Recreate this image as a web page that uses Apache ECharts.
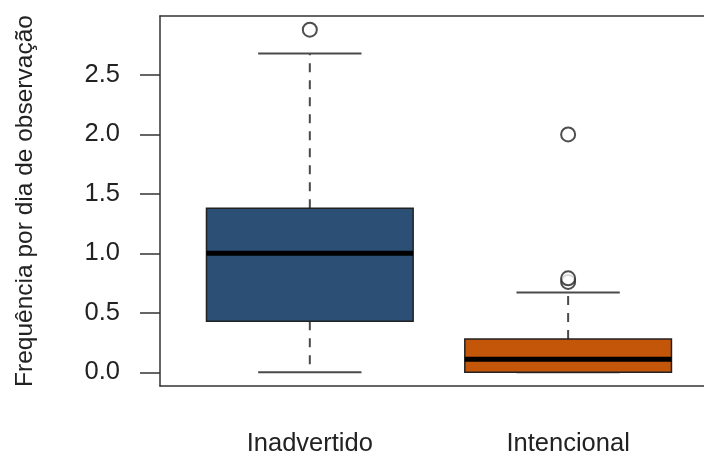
<!DOCTYPE html>
<html>
<head>
<meta charset="utf-8">
<script src="https://cdn.jsdelivr.net/npm/echarts@6/dist/echarts.min.js"></script>
<style>
  html, body { margin: 0; padding: 0; background: #ffffff; }
  #chart { width: 704px; height: 457px; }
</style>
</head>
<body>
<div id="chart"></div>
<script>
// Five-number summaries per group
const categories = ['Inadvertido', 'Intencional'];
const lowerWhisker = [0.0, 0.0];
const q1 = [0.43, 0.0];
const median = [1.0, 0.11];
const q3 = [1.38, 0.28];
const upperWhisker = [2.68, 0.67];

// Points beyond the whiskers (group index, value)
const outlierGroup = [0, 1, 1, 1];
const outlierValue = [2.88, 0.76, 0.79, 2.0];

const yTicks = [0, 0.5, 1, 1.5, 2, 2.5];
const boxColors = ['#2b4f75', '#c4560a'];

const boxData = categories.map((c, i) => [i + 1, lowerWhisker[i], q1[i], median[i], q3[i], upperWhisker[i]]);
const outlierData = outlierGroup.map((g, i) => [g + 1, outlierValue[i]]);

const FONT = 'Liberation Sans, Arial, Helvetica, sans-serif';
const BOX_HALF = 0.4;
const CAP_HALF = 0.2;
// Visible x window: the frame's right side runs past the page edge
const X_MIN = 0.42;
const X_MAX = 2.526;
const FRAME = { color: '#333333', width: 1.5 };

function renderBox(params, api) {
  const x = api.value(0);
  const lo = api.value(1), b1 = api.value(2), md = api.value(3), b3 = api.value(4), hi = api.value(5);
  const pL = api.coord([x - BOX_HALF, b3]);
  const pR = api.coord([x + BOX_HALF, b1]);
  const cL = api.coord([x - CAP_HALF, lo])[0];
  const cR = api.coord([x + CAP_HALF, lo])[0];
  const cx = api.coord([x, 0])[0];
  const yLo = api.coord([x, lo])[1];
  const yHi = api.coord([x, hi])[1];
  const yQ1 = pR[1], yQ3 = pL[1];
  const yMd = api.coord([x, md])[1];
  const whisk = { stroke: '#4a4a4a', lineWidth: 2, lineDash: [9, 8] };
  const cap = { stroke: '#4a4a4a', lineWidth: 2 };
  return {
    type: 'group',
    children: [
      { type: 'line', shape: { x1: cx, y1: yQ3, x2: cx, y2: yHi }, style: whisk },
      { type: 'line', shape: { x1: cx, y1: yQ1, x2: cx, y2: yLo }, style: whisk },
      { type: 'line', shape: { x1: cL, y1: yHi, x2: cR, y2: yHi }, style: cap },
      { type: 'line', shape: { x1: cL, y1: yLo, x2: cR, y2: yLo }, style: cap },
      { type: 'rect', shape: { x: pL[0], y: yQ3, width: pR[0] - pL[0], height: Math.max(yQ1 - yQ3, 0) },
        style: { fill: boxColors[params.dataIndex], stroke: '#222222', lineWidth: 1.5 } },
      { type: 'line', shape: { x1: pL[0], y1: yMd, x2: pR[0], y2: yMd }, style: { stroke: '#000000', lineWidth: 5 } }
    ]
  };
}

const chart = echarts.init(document.getElementById('chart'), null, { renderer: 'canvas' });
chart.setOption({
  animation: false,
  backgroundColor: '#ffffff',
  grid: { left: 160, right: 0, top: 16, bottom: 71 },
  xAxis: [
    {
      type: 'value', min: X_MIN, max: X_MAX, position: 'bottom',
      axisLine: { show: true, onZero: false, lineStyle: FRAME },
      axisTick: { show: false },
      splitLine: { show: false },
      axisLabel: {
        customValues: [1, 2],
        formatter: v => categories[Math.round(v) - 1] || '',
        margin: 45, fontSize: 25.5, color: '#222222', fontFamily: FONT
      }
    },
    {
      type: 'value', min: X_MIN, max: X_MAX, position: 'top',
      axisLine: { show: true, onZero: false, lineStyle: FRAME },
      axisTick: { show: false },
      axisLabel: { show: false },
      splitLine: { show: false }
    }
  ],
  yAxis: {
    type: 'value', min: -0.1152, max: 2.9952,
    name: 'Frequência por dia de observação',
    nameLocation: 'middle', nameRotate: 90, nameGap: 122,
    nameTextStyle: { fontSize: 24.5, color: '#222222', fontFamily: FONT },
    axisLine: { show: true, onZero: false, lineStyle: FRAME },
    splitLine: { show: false },
    axisTick: { show: true, customValues: yTicks, length: 20, inside: false,
      lineStyle: { color: '#333333', width: 1.5 } },
    axisLabel: {
      customValues: yTicks,
      formatter: v => Number(v).toFixed(1),
      margin: 40, fontSize: 25.5, color: '#222222', fontFamily: FONT
    }
  },
  series: [
    {
      type: 'custom',
      data: boxData,
      renderItem: renderBox,
      encode: { x: 0, y: [1, 2, 3, 4, 5] },
      clip: false,
      z: 2
    },
    {
      type: 'scatter',
      data: outlierData,
      symbol: 'circle',
      symbolSize: 14,
      itemStyle: { color: '#ffffff', borderColor: '#222222', borderWidth: 2 },
      z: 3
    }
  ]
});
</script>
</body>
</html>
